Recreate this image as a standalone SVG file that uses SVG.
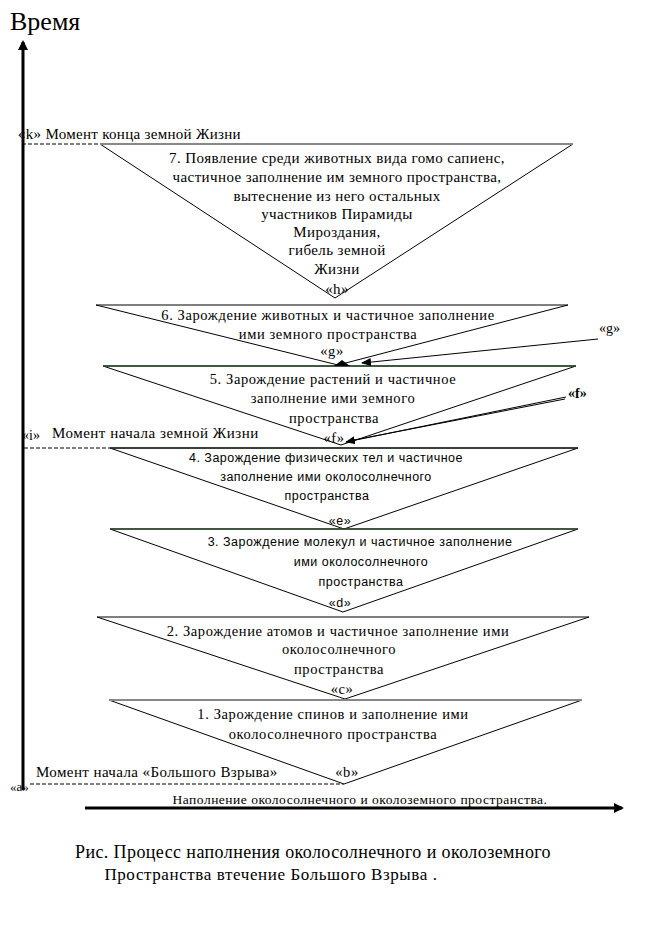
<svg xmlns="http://www.w3.org/2000/svg" width="650" height="925" viewBox="0 0 650 925">
<defs>
<marker id="ah" markerWidth="10" markerHeight="8" refX="9" refY="4" orient="auto" markerUnits="userSpaceOnUse">
<path d="M0,0 L10,4 L0,8 z" fill="#000"/>
</marker>
<marker id="axh" markerWidth="10" markerHeight="10" refX="8" refY="5" orient="auto" markerUnits="userSpaceOnUse">
<path d="M0,0 L10,5 L0,10 z" fill="#000"/>
</marker>
</defs>
<rect width="650" height="925" fill="#fff"/>

<g id="axes" stroke-width="3">
<line stroke="#000" x1="23" y1="790" x2="23" y2="42" marker-end="url(#axh)"/>
<line stroke="#000" x1="85" y1="808" x2="622" y2="808" marker-end="url(#axh)"/>
</g>
<text x="10" y="30" font-family="'Liberation Serif'" font-size="26">Время</text>
<text x="360" y="804" font-family="'Liberation Serif'" font-size="13.5" letter-spacing="0.5" text-anchor="middle">Наполнение  околосолнечного и околоземного пространства.</text>

<g id="markers" stroke="#000" stroke-width="1" stroke-dasharray="4,2">
<line x1="22" y1="144" x2="100" y2="144"/>
<line x1="24" y1="448" x2="110" y2="448"/>
<line x1="30" y1="784" x2="344" y2="784"/>
</g>
<text x="18" y="139" font-family="'Liberation Serif'" font-size="15" letter-spacing="0.3">«k» Момент конца земной Жизни</text>
<text x="22" y="440" font-family="'Liberation Serif'" font-size="14">«i»</text>
<text x="52" y="438" font-family="'Liberation Serif'" font-size="15" letter-spacing="0.5">Момент начала земной Жизни</text>
<text x="10" y="791" font-family="'Liberation Serif'" font-size="13">«a»</text>
<text x="36" y="777" font-family="'Liberation Serif'" font-size="15" letter-spacing="0.4">Момент начала «Большого Взрыва»</text>

<g id="node7" font-family="'Liberation Serif'" font-size="15" letter-spacing="0.4" text-anchor="middle">
<polygon fill="#fff" stroke="#000" points="100,144 573,144 335,298"/>
<line x1="100" y1="144" x2="573" y2="144" stroke="#888" stroke-width="2"/>
<text x="337" y="163">7. Появление среди животных вида гомо сапиенс,</text>
<text x="337" y="182">частичное заполнение им земного пространства,</text>
<text x="337" y="201">вытеснение из него остальных</text>
<text x="337" y="219">участников Пирамиды</text>
<text x="337" y="237">Мироздания,</text>
<text x="337" y="255">гибель земной</text>
<text x="337" y="274">Жизни</text>
<text x="337" y="294">«h»</text>
</g>

<g id="node6" font-family="'Liberation Serif'" font-size="14.5" letter-spacing="0.6" text-anchor="middle">
<polygon fill="#fff" stroke="#000" points="96,305 568,305 338,365"/>
<text x="328" y="320">6. Зарождение животных и частичное заполнение</text>
<text x="328" y="339">ими земного пространства</text>
<text x="332" y="356">«g»</text>
</g>

<g id="node5" font-family="'Liberation Serif'" font-size="14.5" letter-spacing="0.6" text-anchor="middle">
<polygon fill="#fff" stroke="#000" points="103,366 576,366 341,445"/>
<line x1="103" y1="366" x2="576" y2="366" stroke="#2c4a2c" stroke-width="1.6"/>
<text x="333" y="384">5. Зарождение растений и частичное</text>
<text x="333" y="403">заполнение   ими земного</text>
<text x="334" y="423">пространства</text>
<text x="334" y="443">«f»</text>
</g>

<g id="node4" font-family="'Liberation Sans'" font-size="12.5" letter-spacing="0.5" text-anchor="middle">
<polygon fill="#fff" stroke="#000" points="110,448 578,448 344,529"/>
<line x1="110" y1="448" x2="578" y2="448" stroke="#1e2e1e" stroke-width="1.4"/>
<text x="326" y="462">4. Зарождение физических тел и частичное</text>
<text x="326" y="481">заполнение   ими околосолнечного</text>
<text x="327" y="500">пространства</text>
<text x="340" y="525">«e»</text>
</g>

<g id="node3" font-family="'Liberation Sans'" font-size="12.5" letter-spacing="0.5" text-anchor="middle">
<polygon fill="#fff" stroke="#000" points="110,529 578,529 343,612"/>
<line x1="110" y1="529" x2="578" y2="529" stroke="#2c4a2c" stroke-width="1.4"/>
<text x="360" y="546">3. Зарождение молекул и частичное заполнение</text>
<text x="361" y="566">ими околосолнечного</text>
<text x="361" y="586">пространства</text>
<text x="340" y="607">«d»</text>
</g>

<g id="node2" font-family="'Liberation Serif'" font-size="14.5" letter-spacing="0.6" text-anchor="middle">
<polygon fill="#fff" stroke="#000" points="97,617 589,617 345,699"/>
<text x="338" y="636">2. Зарождение атомов и частичное заполнение   ими</text>
<text x="339" y="654">околосолнечного</text>
<text x="339" y="674">пространства</text>
<text x="342" y="694">«c»</text>
</g>

<g id="node1" font-family="'Liberation Serif'" font-size="14.5" letter-spacing="0.6" text-anchor="middle">
<polygon fill="#fff" stroke="#000" points="109,700 582,700 344,784"/>
<line x1="109" y1="700" x2="582" y2="700" stroke="#888" stroke-width="2"/>
<text x="333" y="719">1. Зарождение спинов и  заполнение ими</text>
<text x="333" y="739">околосолнечного пространства</text>
<text x="347" y="777">«b»</text>
</g>

<g id="connectors" stroke="#000" stroke-width="1">
<polygon points="334,366 342,360 350,366" fill="#000" stroke="none"/>
<line x1="598" y1="339" x2="362" y2="363" marker-end="url(#ah)"/>
<line x1="566" y1="397" x2="346" y2="442" marker-end="url(#ah)"/>
<line x1="565" y1="399" x2="349" y2="441"/>
</g>
<text x="599" y="333" font-family="'Liberation Serif'" font-size="14">«g»</text>
<text x="568" y="398" font-family="'Liberation Serif'" font-size="14" font-weight="bold">«f»</text>

<g id="caption" font-family="'Liberation Serif'" text-anchor="middle">
<text x="313" y="858" font-size="18" letter-spacing="0.4">Рис. Процесс наполнения околосолнечного и околоземного</text>
<text x="271" y="880" font-size="17" letter-spacing="0.6">Пространства втечение Большого Взрыва .</text>
</g>
</svg>
